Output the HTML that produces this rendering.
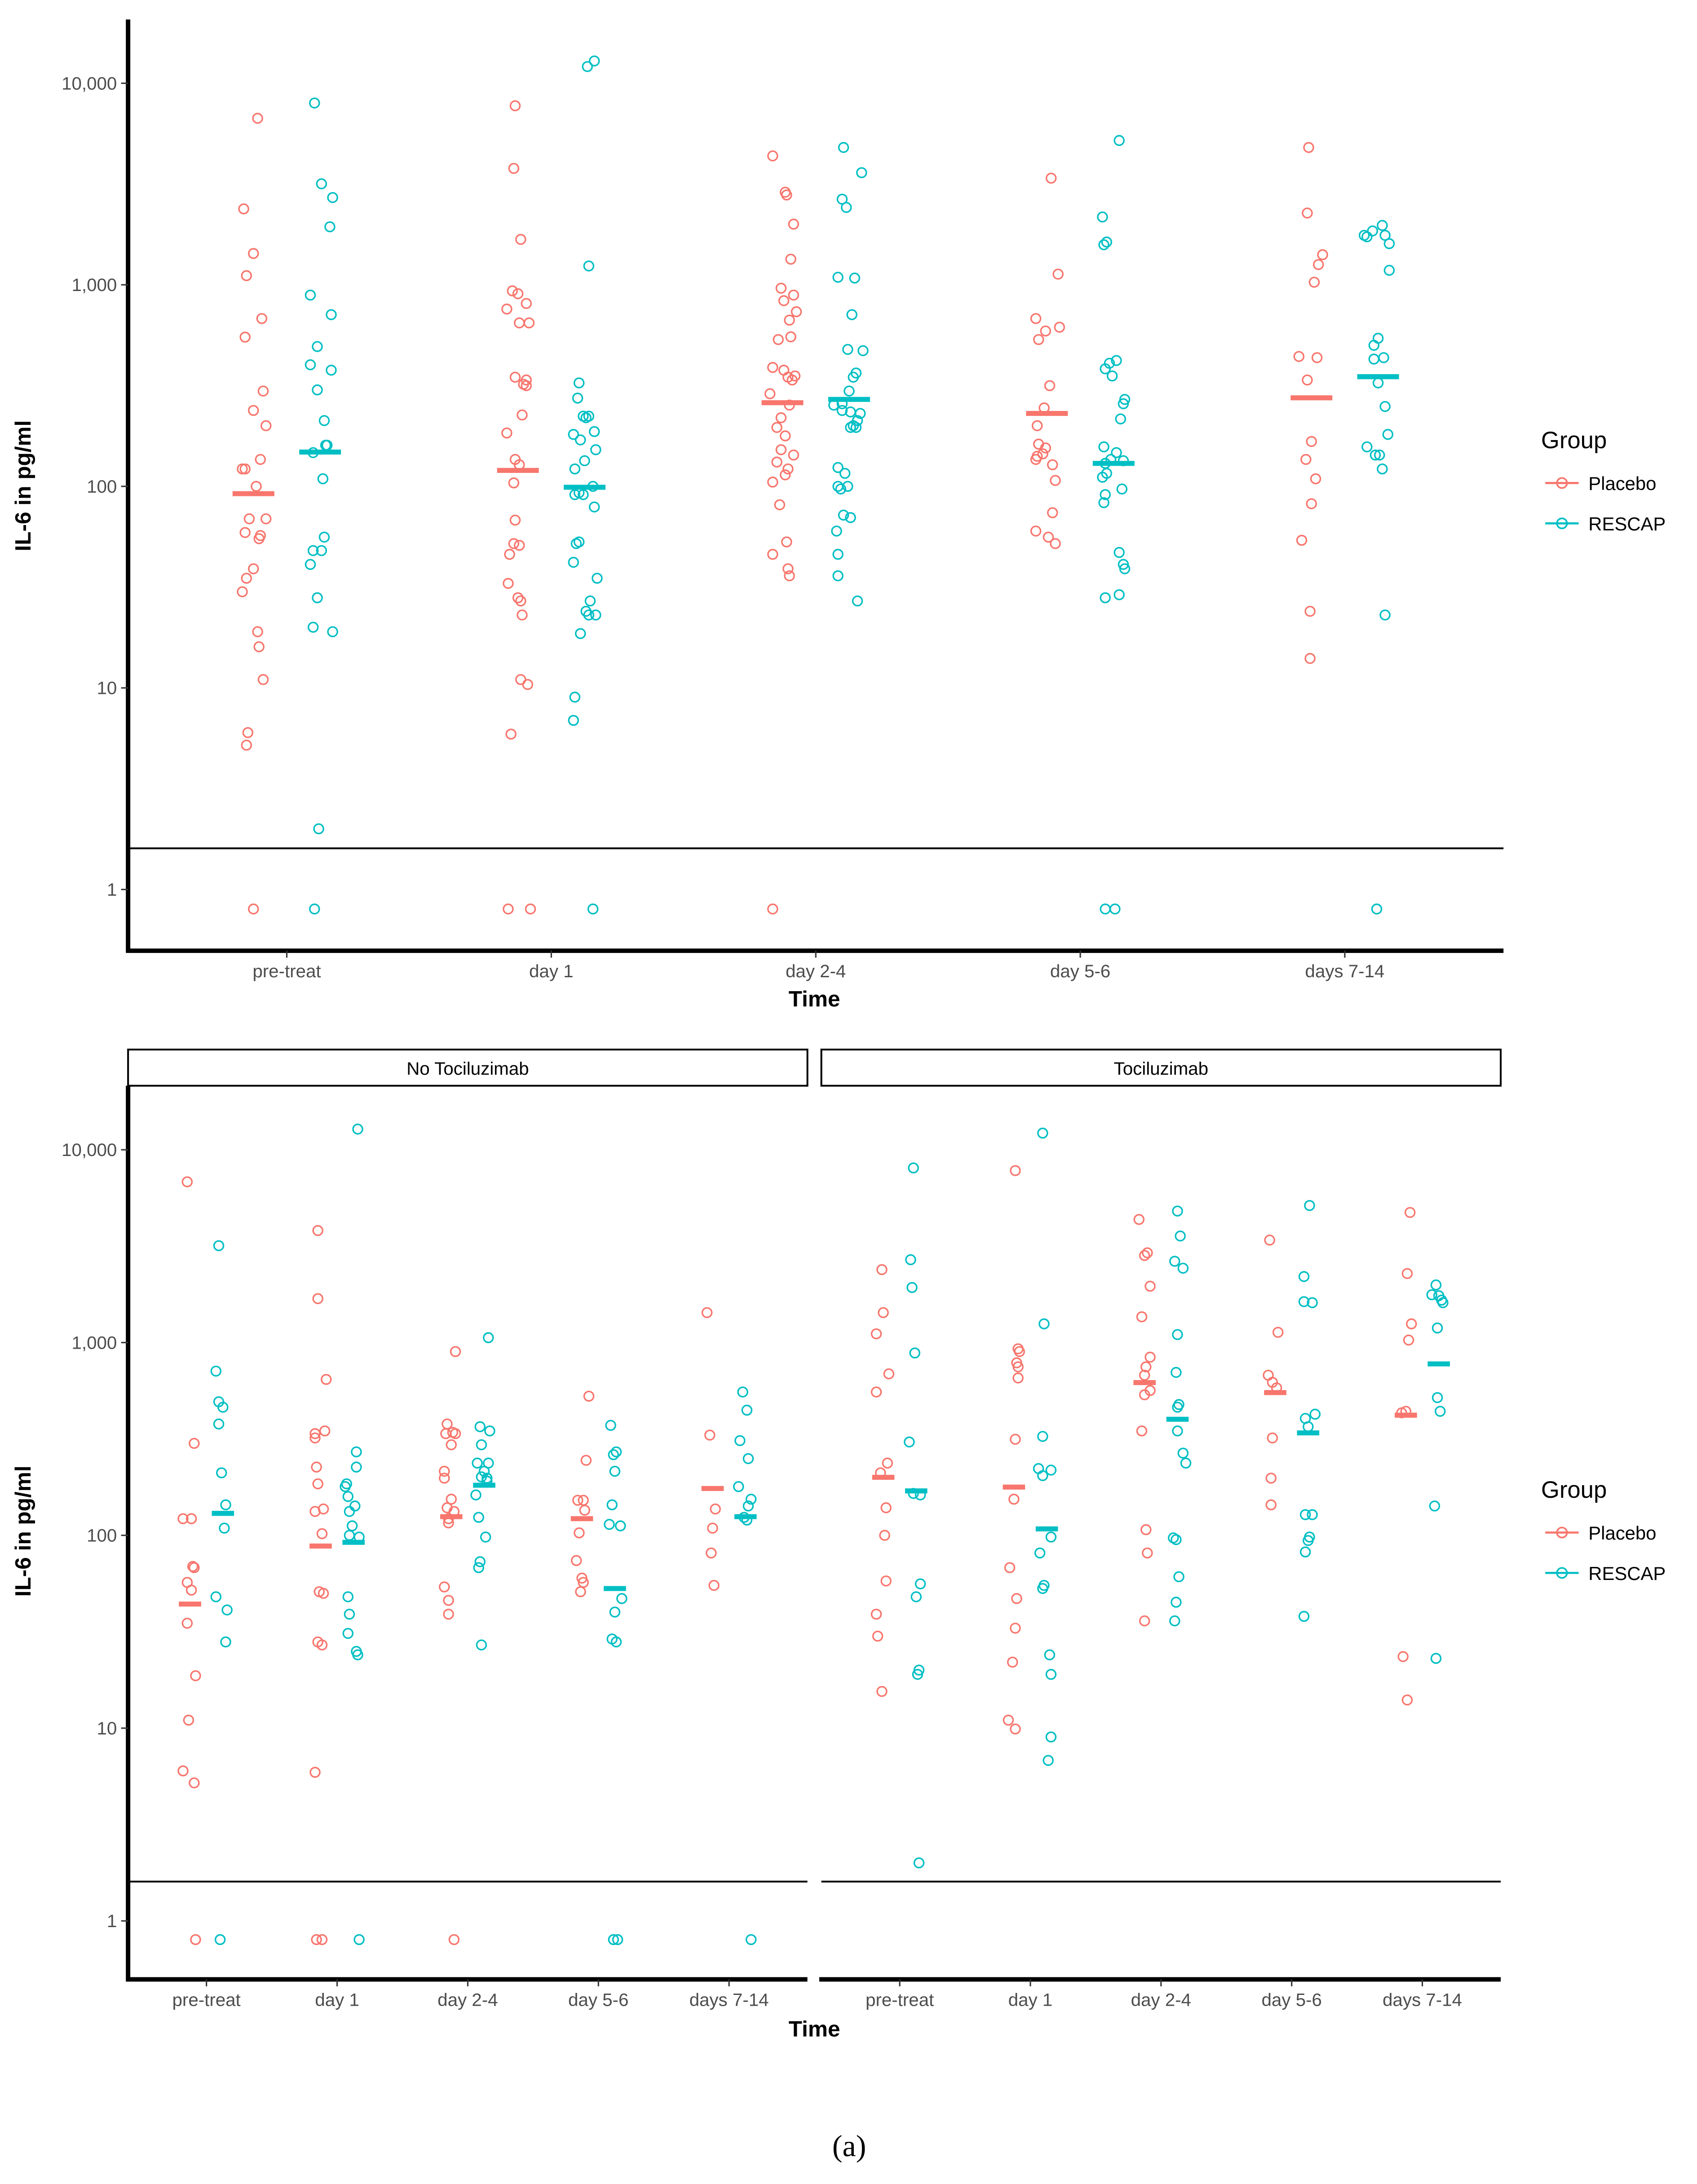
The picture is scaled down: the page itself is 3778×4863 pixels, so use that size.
<!DOCTYPE html>
<html><head><meta charset="utf-8">
<style>
html,body{margin:0;padding:0;background:#fff;}
svg{display:block;}
text{font-family:"Liberation Sans",sans-serif;}
</style></head>
<body>
<svg id="chart" width="3778" height="4863" viewBox="0 0 1219 1569" preserveAspectRatio="none" xmlns="http://www.w3.org/2000/svg">
  <rect x="0" y="0" width="1219" height="1569" fill="#fff"/>
  <g id="plots"></g>
  <g>
    <text x="1107" y="322" font-size="17" fill="#000">Group</text>
    <g>
      <line x1="1110" y1="347" x2="1134" y2="347" stroke="#F8766D" stroke-width="1.5"/>
      <circle cx="1122" cy="347" r="3.6" fill="none" stroke="#F8766D" stroke-width="1.2"/>
      <text x="1141" y="352" font-size="13.5" fill="#000">Placebo</text>
    </g>
    <g>
      <line x1="1110" y1="376" x2="1134" y2="376" stroke="#00BFC4" stroke-width="1.5"/>
      <circle cx="1122" cy="376" r="3.6" fill="none" stroke="#00BFC4" stroke-width="1.2"/>
      <text x="1141" y="381" font-size="13.5" fill="#000">RESCAP</text>
    </g>
  </g>
  <g>
    <text x="1107" y="1076" font-size="17" fill="#000">Group</text>
    <g>
      <line x1="1110" y1="1101" x2="1134" y2="1101" stroke="#F8766D" stroke-width="1.5"/>
      <circle cx="1122" cy="1101" r="3.6" fill="none" stroke="#F8766D" stroke-width="1.2"/>
      <text x="1141" y="1106" font-size="13.5" fill="#000">Placebo</text>
    </g>
    <g>
      <line x1="1110" y1="1130" x2="1134" y2="1130" stroke="#00BFC4" stroke-width="1.5"/>
      <circle cx="1122" cy="1130" r="3.6" fill="none" stroke="#00BFC4" stroke-width="1.2"/>
      <text x="1141" y="1135" font-size="13.5" fill="#000">RESCAP</text>
    </g>
  </g>
  <text x="22" y="349" font-size="16" font-weight="bold" text-anchor="middle" transform="rotate(-90 22 349)">IL-6 in pg/ml</text>
  <text x="22" y="1100" font-size="16" font-weight="bold" text-anchor="middle" transform="rotate(-90 22 1100)">IL-6 in pg/ml</text>
  <text x="585" y="723" font-size="16" font-weight="bold" text-anchor="middle">Time</text>
  <text x="585" y="1463" font-size="16" font-weight="bold" text-anchor="middle">Time</text>
  <rect x="92" y="754" width="488" height="26" fill="#fff" stroke="#000" stroke-width="1.3"/>
  <text x="336" y="772" font-size="13" text-anchor="middle">No Tociluzimab</text>
  <rect x="590" y="754" width="488" height="26" fill="#fff" stroke="#000" stroke-width="1.3"/>
  <text x="834" y="772" font-size="13" text-anchor="middle">Tociluzimab</text>
  <text x="610" y="1549" font-size="22" text-anchor="middle" style="font-family:'Liberation Serif',serif">(a)</text>
</svg>
<script>
const categories = ["pre-treat","day 1","day 2-4","day 5-6","days 7-14"];
const yTicks = [1,10,100,1000,10000];
const yTickLabels = ["1","10","100","1,000","10,000"];
const lodValue = 1.6;

const topPlacebo = [
 [[6700,3],[2380,-7],[1430,0],[1110,-5],[680,6],[550,-6],[297,7],[238,0],[200,9],[136,5],[122,-8],[122,-6],[100,2],[69,-3],[69,9],[59,-6],[57,5],[55,4],[39,0],[35,-5],[30,-8],[19,3],[16,4],[11,7],[6,-4],[5.2,-5],[0.8,0]],
 [[7730,-2],[3780,-3],[1680,2],[933,-4],[903,0],[758,-8],[808,6],[647,1],[647,8],[348,-2],[337,6],[321,4],[316,6],[226,3],[184,-8],[136,-2],[128,1],[104,-3],[68,-2],[52,-3],[51,1],[46,-6],[33,-7],[28,0],[27,2],[23,3],[11,2],[10.4,7],[5.9,-5],[0.8,-7],[0.8,9]],
 [[4360,-7],[2880,2],[2790,3],[2000,8],[1340,6],[962,-1],[889,8],[834,1],[735,10],[668,5],[535,-3],[552,6],[389,-7],[377,1],[348,4],[353,9],[337,7],[288,-9],[253,5],[219,-1],[196,-4],[178,2],[152,-1],[143,8],[132,-4],[122,4],[114,2],[105,-7],[81,-2],[53,3],[46,-7],[39,4],[36,5],[0.8,-7]],
 [[3380,3],[1130,8],[680,-8],[590,-1],[616,9],[535,-6],[316,2],[245,-2],[200,-7],[162,-6],[155,-1],[141,-7],[145,-3],[128,4],[136,-8],[107,6],[74,4],[60,-8],[56,1],[52,6]],
 [[4800,-2],[2270,-3],[1410,8],[1260,5],[1030,2],[441,-9],[435,4],[337,-3],[167,0],[136,-4],[109,3],[82,0],[54,-7],[24,-1],[14,-1]]
];
const topRescap = [
 [[7980,-4],[3170,1],[2710,9],[1940,7],[889,-7],[711,8],[494,-2],[401,-7],[377,8],[301,-2],[212,3],[160,4],[160,5],[147,-5],[109,2],[56,3],[48,-5],[48,1],[41,-7],[28,-2],[20,-5],[19,9],[2.0,-1],[0.8,-4]],
 [[12900,7],[12100,2],[1240,3],[326,-4],[274,-5],[223,-1],[223,3],[219,1],[187,7],[181,-8],[170,-3],[152,8],[134,0],[122,-7],[100,6],[93,-4],[91,-1],[91,-7],[79,7],[53,-4],[52,-6],[42,-8],[35,9],[27,4],[24,1],[23,3],[23,8],[18.6,-3],[9,-7],[6.9,-8],[0.8,6]],
 [[4800,-4],[3600,9],[2660,-5],[2420,-2],[1090,-8],[1080,4],[711,2],[478,-1],[471,10],[365,5],[348,3],[297,0],[253,-11],[257,-5],[234,1],[238,-5],[230,8],[212,6],[200,3],[196,1],[196,5],[124,-8],[116,-3],[100,-8],[100,-1],[97,-6],[72,-4],[70,1],[60,-9],[46,-8],[36,-8],[27,6]],
 [[5200,4],[2170,-8],[1630,-5],[1580,-7],[408,-3],[421,2],[383,-6],[353,-1],[270,8],[257,7],[216,5],[157,-7],[147,2],[136,-2],[130,-6],[134,7],[116,-5],[111,-8],[97,6],[91,-6],[83,-7],[47,4],[41,7],[39,8],[28,-6],[29,4],[0.8,-6],[0.8,1]],
 [[1970,3],[1850,-4],[1760,-10],[1730,-8],[1760,5],[1600,8],[1180,8],[543,0],[501,-3],[428,-3],[435,4],[326,0],[249,5],[181,7],[157,-8],[143,1],[143,-2],[122,3],[23,5],[0.8,-1]]
];
const topPlaceboMeans = [92,120,260,230,275];
const topRescapMeans = [148,99,270,130,350];

const noTociPlacebo = [
 [[6820,-2],[300,3],[122,-5],[122,1],[69,2],[68,3],[57,-2],[52,1],[35,-2],[18.7,4],[11,-1],[6,-5],[5.2,3],[0.8,4]],
 [[3810,-2],[1690,-2],[644,4],[337,-4],[320,-4],[348,3],[226,-3],[185,-2],[133,-4],[137,2],[102,1],[51,-1],[50,2],[28,-2],[27,1],[5.9,-4],[0.8,-3],[0.8,1]],
 [[898,3],[378,-3],[337,-4],[342,1],[337,3],[295,0],[215,-5],[198,-5],[154,0],[139,-3],[133,2],[122,-2],[116,-2],[54,-5],[46,-2],[39,-2],[0.8,2]],
 [[527,5],[245,3],[152,-3],[152,1],[135,2],[103,-2],[74,-4],[60,0],[57,1],[51,-1]],
 [[1430,-4],[331,-2],[137,2],[109,0],[81,-1],[55,1]]
];
const noTociRescap = [
 [[3180,-3],[711,-5],[493,-3],[462,0],[378,-3],[211,-1],[144,2],[109,1],[48,-5],[41,3],[28,2],[0.8,-2]],
 [[12800,3],[271,2],[226,2],[185,-5],[179,-6],[159,-4],[142,1],[133,-3],[112,-1],[100,-3],[98,4],[48,-4],[39,-3],[31,-4],[25,2],[24,3],[0.8,4]],
 [[1060,3],[366,-3],[348,4],[295,-2],[237,-5],[237,3],[215,0],[201,-2],[198,2],[191,2],[162,-6],[124,-4],[98,1],[73,-3],[68,-4],[27,-2]],
 [[372,-3],[271,1],[262,-1],[215,0],[144,-2],[114,-4],[112,4],[47,5],[40,0],[29,-2],[28,1],[0.8,-1],[0.8,2]],
 [[554,-2],[446,1],[310,-4],[250,2],[179,-5],[154,4],[142,2],[124,-1],[120,1],[0.8,4]]
];
const noTociPlaceboMeans = [44,88,125,122,175];
const noTociRescapMeans = [130,92,182,53,125];

const tociPlacebo = [
 [[2390,-1],[1430,0],[1110,-5],[688,4],[554,-5],[237,3],[211,-2],[139,2],[100,1],[58,2],[39,-5],[30,-4],[15.5,-1]],
 [[7800,1],[928,3],[898,4],[785,2],[748,3],[655,3],[315,1],[154,0],[68,-3],[47,2],[33,1],[22,-1],[11,-4],[9.9,1]],
 [[4350,-4],[2920,2],[2830,0],[1960,4],[1360,-2],[840,4],[748,1],[677,0],[564,4],[536,0],[348,-2],[107,1],[81,2],[36,0]],
 [[3400,-4],[1130,2],[677,-5],[622,-2],[582,1],[320,-2],[198,-3],[144,-3]],
 [[4730,3],[2280,1],[1250,4],[1030,2],[440,0],[432,-3],[23.5,-2],[14,1]]
];
const tociRescap = [
 [[8050,-2],[2690,-4],[1930,-3],[883,-1],[305,-5],[165,-2],[162,3],[56,3],[48,0],[20,2],[19,1],[2.0,2]],
 [[12200,-3],[1250,-2],[326,-3],[222,-6],[218,3],[204,-3],[98,3],[81,-5],[55,-2],[53,-3],[24,2],[19,3],[9,3],[6.8,1]],
 [[4810,0],[3570,2],[2640,-2],[2430,4],[1100,0],[700,-1],[477,1],[462,0],[348,0],[267,4],[237,6],[97,-3],[95,-1],[61,1],[45,-1],[36,-2]],
 [[5140,1],[2200,-3],[1630,-3],[1610,3],[425,5],[404,-2],[366,0],[128,-2],[128,3],[98,1],[94,0],[82,-2],[38,-3]],
 [[1990,-2],[1770,-5],[1750,0],[1660,2],[1610,3],[1190,-1],[518,-1],[440,1],[142,-3],[23,-2]]
];
const tociPlaceboMeans = [200,178,620,550,420];
const tociRescapMeans = [170,108,400,340,775];

const NS = "http://www.w3.org/2000/svg";
const root = document.getElementById('plots');
function mk(tag, attrs, parent){
  const e = document.createElementNS(NS, tag);
  for (const k in attrs) e.setAttribute(k, attrs[k]);
  (parent||root).appendChild(e);
  return e;
}
const COL_P = "#F8766D", COL_R = "#00BFC4";

function drawPanel(p){
  const g = mk('g', {});
  
  
  const band = (p.x1 - p.x0) / 5.2;
  const xCat = i => p.x0 + (0.6 + i) * band;
  const yScale = v => p.y1v - p.dec * Math.log10(v);
  const dodge = band * 0.126;
  const jit = band / p.refBand;

  const lod = mk('line', {x1:p.x0, x2:p.x1, y1:yScale(lodValue), y2:yScale(lodValue), stroke:'#000', 'stroke-width':1.3}, g);
  
  

  if (p.yAxis){
    const ya = mk('line', {x1:p.x0, x2:p.x0, y1:p.yTop, y2:p.yBot+1.5, stroke:'#000', 'stroke-width':3.2}, g);
    
    
    yTicks.forEach((t, i) => {
      const y = yScale(t);
      const tk = mk('line', {x1:p.x0-5, x2:p.x0, y1:y, y2:y, stroke:'#333', 'stroke-width':1}, g);
      
      
      const tl = mk('text', {x:p.x0-8, y:y+4.5, 'font-size':13, 'text-anchor':'end', fill:'#4d4d4d'}, g);
      tl.textContent = yTickLabels[i];
      
      
    });
  }
  const xa = mk('line', {x1:p.x0-1.5, x2:p.x1, y1:p.yBot, y2:p.yBot, stroke:'#000', 'stroke-width':3.2}, g);
  
  
  categories.forEach((c, i) => {
    const x = xCat(i);
    const tk = mk('line', {x1:x, x2:x, y1:p.yBot, y2:p.yBot+5, stroke:'#333', 'stroke-width':1}, g);
    
    
    const tl = mk('text', {x:x, y:p.yBot+19, 'font-size':13, 'text-anchor':'middle', fill:'#4d4d4d'}, g);
    tl.textContent = c;
    
    
  });

  const series = [[p.placebo, p.placeboMeans, COL_P, -1, 'placebo'], [p.rescap, p.rescapMeans, COL_R, 1, 'rescap']];
  series.forEach(([pts, means, col, side, nm]) => {
    pts.forEach((arr, i) => {
      const cx = xCat(i) + side * dodge;
      arr.forEach(([v, j]) => {
        const c = mk('circle', {cx: cx + j * jit, cy: yScale(v), r: 3.4, fill:'none', stroke:col, 'stroke-width':1.1}, g);
        
        
      });
      const my = yScale(means[i]);
      const m = mk('line', {x1: cx - p.meanHalf, x2: cx + p.meanHalf, y1: my, y2: my, stroke: col, 'stroke-width': 3.6}, g);
      
      
    });
  });
}

drawPanel({name:'top-panel', x0:92, x1:1080, yTop:14, yBot:683, y1v:639, dec:144.8, refBand:190, meanHalf:15, yAxis:true,
  placebo:topPlacebo, rescap:topRescap, placeboMeans:topPlaceboMeans, rescapMeans:topRescapMeans});
drawPanel({name:'no-tocilizumab-panel', x0:92, x1:580, yTop:780, yBot:1422, y1v:1380, dec:138.5, refBand:94, meanHalf:8, yAxis:true,
  placebo:noTociPlacebo, rescap:noTociRescap, placeboMeans:noTociPlaceboMeans, rescapMeans:noTociRescapMeans});
drawPanel({name:'tocilizumab-panel', x0:590, x1:1078, yTop:780, yBot:1422, y1v:1380, dec:138.5, refBand:94, meanHalf:8, yAxis:false,
  placebo:tociPlacebo, rescap:tociRescap, placeboMeans:tociPlaceboMeans, rescapMeans:tociRescapMeans});
</script>
</body></html>
